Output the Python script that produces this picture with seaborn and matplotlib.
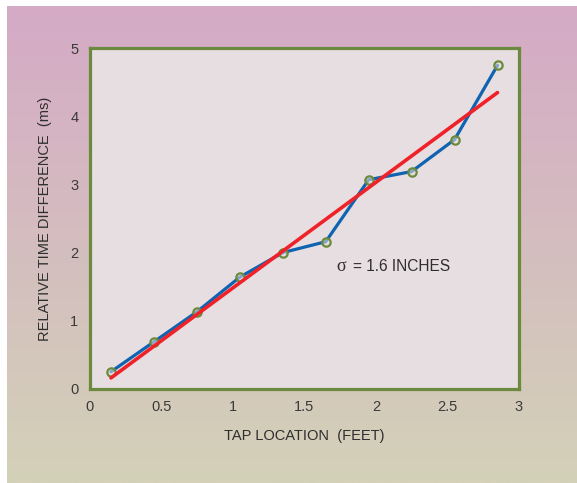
import numpy as np
import pandas as pd
import matplotlib
matplotlib.use("Agg")
import matplotlib.pyplot as plt
import seaborn as sns
from matplotlib.ticker import MultipleLocator

# ---- data ----
tap_location_ft = [0.15, 0.45, 0.75, 1.05, 1.35, 1.65, 1.95, 2.25, 2.55, 2.85]
time_diff_ms = [0.25, 0.69, 1.13, 1.64, 2.00, 2.16, 3.07, 3.19, 3.66, 4.75]
fit_x = [0.15, 2.85]
fit_y = [0.16, 4.35]
x_ticks = [0, 0.5, 1, 1.5, 2, 2.5, 3]
x_tick_labels = ["0", "0.5", "1", "1.5", "2", "2.5", "3"]
y_ticks = [0, 1, 2, 3, 4, 5]
y_tick_labels = ["0", "1", "2", "3", "4", "5"]
annotation_sym = "σ"
annotation_txt = "= 1.6 INCHES"

sns.set_style("white")
plt.rcParams['font.family'] = ['Liberation Sans', 'DejaVu Sans']

W, H = 577, 483
fig = plt.figure(figsize=(W / 100, H / 100), dpi=100)
fig.patch.set_facecolor("white")

# gradient background panel
bg = fig.add_axes([7 / W, 0, 1 - 7 / W, (H - 6) / H])
bg.set_axis_off()
top = np.array([213, 170, 198]) / 255.0
bot = np.array([211, 209, 184]) / 255.0
t = np.linspace(0, 1, 256)[:, None]
grad = (top[None, :] * (1 - t) + bot[None, :] * t)[:, None, :]
bg.imshow(grad, aspect="auto", extent=[0, 1, 0, 1], zorder=0)

ax = fig.add_axes([89.5 / W, 1 - 388.8 / H, (519 - 89.5) / W, (388.8 - 48.3) / H])
ax.set_facecolor("#e7dee1")

df = pd.DataFrame({"x": tap_location_ft, "y": time_diff_ms})
fit = pd.DataFrame({"x": fit_x, "y": fit_y})

sns.lineplot(data=df, x="x", y="y", ax=ax, color="#0f63b0", linewidth=2.3,
             marker="o", markersize=6, markeredgecolor="#6b8a3a",
             markerfacecolor=(0.9, 0.87, 0.88, 0.55), markeredgewidth=1.6,
             zorder=3, sort=False)
sns.lineplot(data=fit, x="x", y="y", ax=ax, color="#ee2228", linewidth=2.6,
             zorder=4, sort=False)

ax.set_xlim(0, 3)
ax.set_ylim(0, 5)
ax.set_xticks(x_ticks)
ax.set_xticklabels(x_tick_labels)
ax.set_yticks(y_ticks)
ax.set_yticklabels(y_tick_labels)
ax.yaxis.set_minor_locator(MultipleLocator(0.5))

green = "#6b8a3e"
for s in ax.spines.values():
    s.set_color(green)
    s.set_linewidth(2.3)
    s.set_visible(True)

ax.tick_params(axis="both", which="both", direction="in", length=5.5, width=1.6,
               color=green, labelsize=10.5, labelcolor="#3a3a3a")
ax.tick_params(axis="x", pad=8)
ax.tick_params(axis="y", pad=8)
ax.tick_params(top=False, right=False, which="both")

ax.set_xlabel("TAP LOCATION  (FEET)", fontsize=10.5, color="#2e2e2e", labelpad=11)
ax.set_ylabel("RELATIVE TIME DIFFERENCE  (ms)", fontsize=10.5, color="#2e2e2e", labelpad=13)

ax.text(1.725, 1.79, annotation_sym, fontsize=13, color="#2e2e2e", va="center", ha="left",
        family=["Liberation Serif", "DejaVu Serif"], zorder=5)
ax.text(1.84, 1.79, annotation_txt, fontsize=11.2, color="#2e2e2e", va="center", ha="left",
        zorder=5)

fig.savefig("out.png", dpi=100, facecolor=fig.get_facecolor())
